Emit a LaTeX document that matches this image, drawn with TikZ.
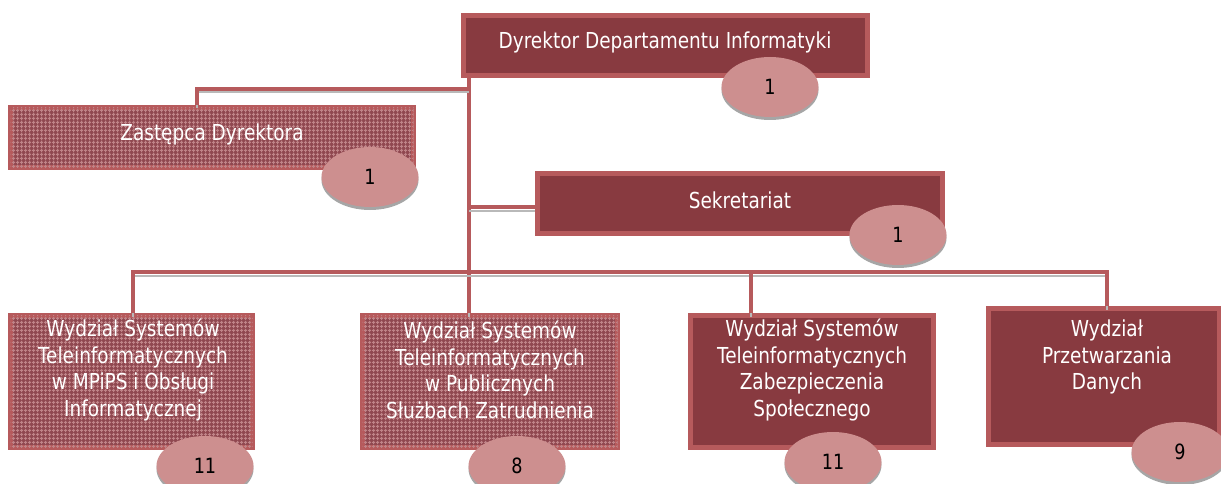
\documentclass[tikz,border=0pt]{standalone}
\usepackage{fontspec}
\setmainfont{DejaVu Sans}
\newfontfamily\tfont{DejaVu Sans}[FakeStretch=0.84]
\usetikzlibrary{patterns,shapes.geometric}
\definecolor{lborder}{HTML}{B65A5C}
\definecolor{dfill}{HTML}{883A40}
\definecolor{mfill}{HTML}{904850}
\definecolor{efill}{HTML}{CD8F8F}
\definecolor{pdots}{HTML}{C08488}
\pgfdeclarepatternformonly{meshp}{\pgfpointorigin}{\pgfpoint{4pt}{4pt}}{\pgfpoint{4pt}{4pt}}{%
  \pgfpathrectangle{\pgfpoint{0pt}{1.5pt}}{\pgfpoint{4pt}{1pt}}%
  \pgfpathrectangle{\pgfpoint{1.5pt}{0pt}}{\pgfpoint{1pt}{1.5pt}}%
  \pgfpathrectangle{\pgfpoint{1.5pt}{2.5pt}}{\pgfpoint{1pt}{1.5pt}}%
  \pgfusepath{fill}}
\tikzset{
  unitbox/.style={draw=lborder, line width=5pt, fill=dfill, text=white, align=center,
    inner sep=0pt},
  meshbox/.style={unitbox, fill=mfill, postaction={pattern=meshp, pattern color=pdots}},
  countell/.style={ellipse, fill=efill, minimum width=97pt, minimum height=60pt, inner sep=0pt,
    font=\tfont\fontsize{21}{22}\selectfont, text=black,
    preaction={fill=gray!70, transform canvas={yshift=-3pt}}},
  conn/.style={draw=lborder, line width=4.5pt,
    preaction={draw=gray!55, line width=2pt, transform canvas={yshift=-3.5pt}}},
  lbl/.style={text=white, align=center, font=\tfont\fontsize{22}{26.5}\selectfont, inner sep=0pt}
}
\begin{document}
\begin{tikzpicture}[x=1pt,y=-1pt]
\useasboundingbox (0,0) rectangle (1221,484);
\coordinate (tx) at (469,0);
\coordinate (zx) at (197,0);
\coordinate (d1) at (133,272);
\coordinate (d3) at (751,272);
\coordinate (d4) at (1107,272);
\coordinate (zy) at (0,89);
\coordinate (sy) at (0,207);
% boxes
\node[unitbox, minimum width=404pt, minimum height=60pt] (dir) at (665.5,45.5) {};
\node[meshbox, minimum width=403pt, minimum height=60pt] (zast) at (212,137.5) {};
\node[unitbox, minimum width=405pt, minimum height=60pt] (sek) at (740,203.5) {};
\node[meshbox, minimum width=242pt, minimum height=132pt] (b1) at (131.5,381.5) {};
\node[meshbox, minimum width=255pt, minimum height=132pt] (b2) at (490,381.5) {};
\node[unitbox, minimum width=243pt, minimum height=132pt] (b3) at (812,381.5) {};
\node[unitbox, minimum width=231pt, minimum height=136pt] (b4) at (1103.5,376.5) {};
% connectors
\draw[conn] (dir.south -| tx) -- (b2.north -| tx);
\draw[conn] (tx |- zy) -| (zast.north -| zx);
\draw[conn] (tx |- sy) -- (sek.west |- sy);
\draw[conn] (b1.north -| d1) -- (d1) -- (d4) -- (b4.north -| d4);
\draw[conn] (b3.north -| d3) -- (d3);
% labels
\node[lbl] (tdir) at (665,42) {Dyrektor Departamentu Informatyki};
\node[lbl] (tzast) at (212,134) {Zastępca Dyrektora};
\node[lbl] (tsek) at (740,200) {Sekretariat};
\node[lbl] (t1) at (133,370) {Wydział Systemów\\Teleinformatycznych\\w MPiPS i Obsługi\\Informatycznej};
\node[lbl] (t2) at (490,370) {Wydział Systemów\\Teleinformatycznych\\w Publicznych\\Służbach Zatrudnienia};
\node[lbl] (t3) at (812,370) {Wydział Systemów\\Teleinformatycznych\\Zabezpieczenia\\Społecznego};
\node[lbl] (t4) at (1107,357) {Wydział\\Przetwarzania\\Danych};
% counts
\node[countell] (e0) at (770,87) {1};
\node[countell] (e1) at (370,177) {1};
\node[countell] (e2) at (898,235) {1};
\node[countell] (e3) at (205,466) {11};
\node[countell] (e4) at (517,466) {8};
\node[countell] (e5) at (833,462) {11};
\node[countell] (e6) at (1180,452) {9};
\end{tikzpicture}
\end{document}
